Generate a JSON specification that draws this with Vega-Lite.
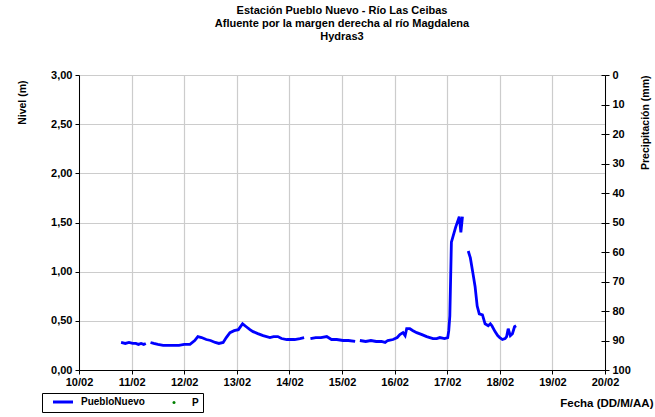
{
  "$schema": "https://vega.github.io/schema/vega-lite/v6.json",
  "width": 526,
  "height": 295,
  "autosize": {"type": "none"},
  "padding": {"left": 79, "top": 75, "right": 50, "bottom": 47},
  "background": "white",
  "title": {
    "text": ["Estación Pueblo Nuevo - Río Las Ceibas", "Afluente por la margen derecha al río Magdalena", "Hydras3"],
    "font": "Liberation Sans",
    "fontSize": 11,
    "fontWeight": "bold",
    "color": "black",
    "anchor": "middle",
    "offset": 27,
    "lineHeight": 13
  },
  "data": {
    "values": [
      {"fecha": "2012-02-10 19:12", "nivel": 0.28, "tramo": 1},
      {"fecha": "2012-02-10 21:07", "nivel": 0.27, "tramo": 1},
      {"fecha": "2012-02-10 22:48", "nivel": 0.28, "tramo": 1},
      {"fecha": "2012-02-11 00:29", "nivel": 0.27, "tramo": 1},
      {"fecha": "2012-02-11 01:55", "nivel": 0.27, "tramo": 1},
      {"fecha": "2012-02-11 03:07", "nivel": 0.26, "tramo": 1},
      {"fecha": "2012-02-11 04:19", "nivel": 0.27, "tramo": 1},
      {"fecha": "2012-02-11 05:31", "nivel": 0.26, "tramo": 1},
      {"fecha": "2012-02-11 06:29", "nivel": 0.27, "tramo": 1},
      {"fecha": "2012-02-11 08:38", "nivel": 0.28, "tramo": 2},
      {"fecha": "2012-02-11 10:05", "nivel": 0.27, "tramo": 2},
      {"fecha": "2012-02-11 12:00", "nivel": 0.26, "tramo": 2},
      {"fecha": "2012-02-11 14:24", "nivel": 0.25, "tramo": 2},
      {"fecha": "2012-02-11 18:00", "nivel": 0.25, "tramo": 2},
      {"fecha": "2012-02-11 21:36", "nivel": 0.25, "tramo": 2},
      {"fecha": "2012-02-12 00:00", "nivel": 0.26, "tramo": 2},
      {"fecha": "2012-02-12 02:38", "nivel": 0.26, "tramo": 2},
      {"fecha": "2012-02-12 04:48", "nivel": 0.30, "tramo": 2},
      {"fecha": "2012-02-12 06:14", "nivel": 0.34, "tramo": 2},
      {"fecha": "2012-02-12 07:55", "nivel": 0.33, "tramo": 2},
      {"fecha": "2012-02-12 10:05", "nivel": 0.31, "tramo": 2},
      {"fecha": "2012-02-12 12:00", "nivel": 0.30, "tramo": 2},
      {"fecha": "2012-02-12 14:10", "nivel": 0.28, "tramo": 2},
      {"fecha": "2012-02-12 15:50", "nivel": 0.27, "tramo": 2},
      {"fecha": "2012-02-12 17:46", "nivel": 0.28, "tramo": 2},
      {"fecha": "2012-02-12 19:12", "nivel": 0.33, "tramo": 2},
      {"fecha": "2012-02-12 20:53", "nivel": 0.38, "tramo": 2},
      {"fecha": "2012-02-12 22:48", "nivel": 0.40, "tramo": 2},
      {"fecha": "2012-02-13 00:43", "nivel": 0.41, "tramo": 2},
      {"fecha": "2012-02-13 02:38", "nivel": 0.47, "tramo": 2},
      {"fecha": "2012-02-13 04:19", "nivel": 0.44, "tramo": 2},
      {"fecha": "2012-02-13 06:00", "nivel": 0.41, "tramo": 2},
      {"fecha": "2012-02-13 07:26", "nivel": 0.39, "tramo": 2},
      {"fecha": "2012-02-13 09:36", "nivel": 0.37, "tramo": 2},
      {"fecha": "2012-02-13 12:00", "nivel": 0.35, "tramo": 2},
      {"fecha": "2012-02-13 15:07", "nivel": 0.33, "tramo": 2},
      {"fecha": "2012-02-13 16:48", "nivel": 0.34, "tramo": 2},
      {"fecha": "2012-02-13 18:43", "nivel": 0.34, "tramo": 2},
      {"fecha": "2012-02-13 20:24", "nivel": 0.32, "tramo": 2},
      {"fecha": "2012-02-13 22:48", "nivel": 0.31, "tramo": 2},
      {"fecha": "2012-02-14 00:14", "nivel": 0.31, "tramo": 2},
      {"fecha": "2012-02-14 02:24", "nivel": 0.31, "tramo": 2},
      {"fecha": "2012-02-14 04:48", "nivel": 0.32, "tramo": 2},
      {"fecha": "2012-02-14 06:43", "nivel": 0.33, "tramo": 2},
      {"fecha": "2012-02-14 09:36", "nivel": 0.32, "tramo": 3},
      {"fecha": "2012-02-14 12:00", "nivel": 0.33, "tramo": 3},
      {"fecha": "2012-02-14 14:24", "nivel": 0.33, "tramo": 3},
      {"fecha": "2012-02-14 17:02", "nivel": 0.34, "tramo": 3},
      {"fecha": "2012-02-14 19:12", "nivel": 0.31, "tramo": 3},
      {"fecha": "2012-02-14 21:36", "nivel": 0.31, "tramo": 3},
      {"fecha": "2012-02-15 00:29", "nivel": 0.30, "tramo": 3},
      {"fecha": "2012-02-15 02:53", "nivel": 0.30, "tramo": 3},
      {"fecha": "2012-02-15 06:00", "nivel": 0.29, "tramo": 3},
      {"fecha": "2012-02-15 08:10", "nivel": 0.30, "tramo": 4},
      {"fecha": "2012-02-15 10:48", "nivel": 0.29, "tramo": 4},
      {"fecha": "2012-02-15 13:12", "nivel": 0.30, "tramo": 4},
      {"fecha": "2012-02-15 15:36", "nivel": 0.29, "tramo": 4},
      {"fecha": "2012-02-15 18:00", "nivel": 0.29, "tramo": 4},
      {"fecha": "2012-02-15 19:41", "nivel": 0.28, "tramo": 4},
      {"fecha": "2012-02-15 20:53", "nivel": 0.30, "tramo": 4},
      {"fecha": "2012-02-15 23:17", "nivel": 0.31, "tramo": 4},
      {"fecha": "2012-02-16 01:12", "nivel": 0.33, "tramo": 4},
      {"fecha": "2012-02-16 02:24", "nivel": 0.36, "tramo": 4},
      {"fecha": "2012-02-16 03:50", "nivel": 0.38, "tramo": 4},
      {"fecha": "2012-02-16 04:48", "nivel": 0.35, "tramo": 4},
      {"fecha": "2012-02-16 05:31", "nivel": 0.42, "tramo": 4},
      {"fecha": "2012-02-16 06:58", "nivel": 0.42, "tramo": 4},
      {"fecha": "2012-02-16 08:24", "nivel": 0.40, "tramo": 4},
      {"fecha": "2012-02-16 10:05", "nivel": 0.38, "tramo": 4},
      {"fecha": "2012-02-16 12:29", "nivel": 0.36, "tramo": 4},
      {"fecha": "2012-02-16 14:38", "nivel": 0.34, "tramo": 4},
      {"fecha": "2012-02-16 17:31", "nivel": 0.32, "tramo": 4},
      {"fecha": "2012-02-16 19:12", "nivel": 0.32, "tramo": 4},
      {"fecha": "2012-02-16 20:38", "nivel": 0.33, "tramo": 4},
      {"fecha": "2012-02-16 22:48", "nivel": 0.32, "tramo": 4},
      {"fecha": "2012-02-17 00:14", "nivel": 0.33, "tramo": 4},
      {"fecha": "2012-02-17 00:43", "nivel": 0.40, "tramo": 4},
      {"fecha": "2012-02-17 01:12", "nivel": 0.55, "tramo": 4},
      {"fecha": "2012-02-17 01:55", "nivel": 1.30, "tramo": 4},
      {"fecha": "2012-02-17 03:50", "nivel": 1.45, "tramo": 4},
      {"fecha": "2012-02-17 05:31", "nivel": 1.56, "tramo": 4},
      {"fecha": "2012-02-17 06:14", "nivel": 1.40, "tramo": 4},
      {"fecha": "2012-02-17 06:58", "nivel": 1.56, "tramo": 4},
      {"fecha": "2012-02-17 09:36", "nivel": 1.21, "tramo": 5},
      {"fecha": "2012-02-17 10:34", "nivel": 1.14, "tramo": 5},
      {"fecha": "2012-02-17 11:46", "nivel": 0.98, "tramo": 5},
      {"fecha": "2012-02-17 12:43", "nivel": 0.85, "tramo": 5},
      {"fecha": "2012-02-17 13:41", "nivel": 0.65, "tramo": 5},
      {"fecha": "2012-02-17 14:38", "nivel": 0.57, "tramo": 5},
      {"fecha": "2012-02-17 16:05", "nivel": 0.56, "tramo": 5},
      {"fecha": "2012-02-17 17:17", "nivel": 0.47, "tramo": 5},
      {"fecha": "2012-02-17 18:43", "nivel": 0.45, "tramo": 5},
      {"fecha": "2012-02-17 19:41", "nivel": 0.47, "tramo": 5},
      {"fecha": "2012-02-17 20:24", "nivel": 0.45, "tramo": 5},
      {"fecha": "2012-02-17 21:50", "nivel": 0.39, "tramo": 5},
      {"fecha": "2012-02-17 23:02", "nivel": 0.35, "tramo": 5},
      {"fecha": "2012-02-18 00:00", "nivel": 0.33, "tramo": 5},
      {"fecha": "2012-02-18 01:12", "nivel": 0.31, "tramo": 5},
      {"fecha": "2012-02-18 02:24", "nivel": 0.32, "tramo": 5},
      {"fecha": "2012-02-18 03:07", "nivel": 0.34, "tramo": 5},
      {"fecha": "2012-02-18 03:50", "nivel": 0.42, "tramo": 5},
      {"fecha": "2012-02-18 04:48", "nivel": 0.35, "tramo": 5},
      {"fecha": "2012-02-18 05:46", "nivel": 0.37, "tramo": 5},
      {"fecha": "2012-02-18 06:43", "nivel": 0.44, "tramo": 5},
      {"fecha": "2012-02-18 07:26", "nivel": 0.45, "tramo": 5}
    ]
  },
  "layer": [
    {
      "mark": {"type": "line", "strokeWidth": 2.8, "clip": true},
      "encoding": {
        "x": {
          "field": "fecha",
          "type": "temporal",
          "scale": {"domain": [{"year": 2012, "month": 2, "date": 10}, {"year": 2012, "month": 2, "date": 20}]},
          "axis": {
            "tickCount": {"interval": "day", "step": 1},
            "format": "%d/%m",
            "labelFlush": false,
            "labelOverlap": false,
            "tickSize": 4,
            "labelPadding": 2,
            "grid": true,
            "title": "Fecha (DD/M/AA)",
            "titleFontSize": 11.5,
            "titleX": 574,
            "titleY": 33,
            "titleAlign": "right",
            "titleBaseline": "middle",
            "titleAnchor": null
          }
        },
        "y": {
          "field": "nivel",
          "type": "quantitative",
          "scale": {"domain": [0, 3]},
          "axis": {
            "orient": "left",
            "values": [0, 0.5, 1, 1.5, 2, 2.5, 3],
            "labelExpr": "replace(format(datum.value, '.2f'), '.', ',')",
            "tickSize": 4,
            "labelPadding": 3,
            "grid": true,
            "title": "Nivel (m)",
            "titleAngle": 270,
            "titleX": -57,
            "titleY": 5,
            "titleAlign": "right",
            "titleBaseline": "middle"
          }
        },
        "detail": {"field": "tramo"},
        "color": {
          "datum": "PuebloNuevo",
          "scale": {"domain": ["PuebloNuevo", "P"], "range": ["#0000FF", "#008000"]},
          "legend": {
            "orient": "none",
            "legendX": -37,
            "legendY": 318,
            "direction": "horizontal",
            "title": null,
            "strokeColor": "black",
            "fillColor": "white",
            "padding": 4,
            "labelFont": "Liberation Sans",
            "labelFontWeight": "bold",
            "labelFontSize": 10,
            "labelColor": "black",
            "labelOffset": 13,
            "symbolOffset": 12,
            "symbolSize": 400,
            "symbolType": "stroke",
            "symbolStrokeWidth": 3,
            "columnPadding": 12,
            "encode": {
              "legend": {
                "update": {
                  "stroke": {"value": "black"},
                  "strokeWidth": {"value": 1},
                  "fill": {"value": "white"}
                }
              },
              "symbols": {
                "update": {
                  "shape": {"signal": "datum.value === 'P' ? 'circle' : 'stroke'"},
                  "size": {"signal": "datum.value === 'P' ? 9 : 400"},
                  "strokeWidth": {"signal": "datum.value === 'P' ? 0 : 3"},
                  "fill": {"signal": "datum.value === 'P' ? '#008000' : 'transparent'"},
                  "stroke": {"signal": "datum.value === 'P' ? '#008000' : '#0000FF'"},
                  "opacity": {"value": 1}
                }
              }
            }
          }
        }
      }
    },
    {
      "mark": {"type": "point", "filled": true, "size": 9},
      "encoding": {
        "x": {"field": "fecha", "type": "temporal"},
        "y": {
          "field": "precip",
          "type": "quantitative",
          "scale": {"domain": [0, 100], "reverse": true},
          "axis": {
            "orient": "right",
            "values": [0, 10, 20, 30, 40, 50, 60, 70, 80, 90, 100],
            "tickSize": 4,
            "labelPadding": 3,
            "grid": false,
            "title": "Precipitación (mm)",
            "titleAngle": 270,
            "titleX": 40,
            "titleY": 0,
            "titleAlign": "right",
            "titleBaseline": "middle"
          }
        },
        "color": {"datum": "P"}
      }
    },
    {
      "mark": {"type": "point", "opacity": 0},
      "encoding": {
        "x": {"field": "fecha", "type": "temporal"},
        "y": {
          "field": "precip",
          "type": "quantitative",
          "scale": {"domain": [0, 100], "reverse": true},
          "axis": {
            "orient": "right",
            "values": [0, 10, 20, 30, 40, 50, 60, 70, 80, 90, 100],
            "tickSize": 4,
            "offset": -4,
            "labels": false,
            "domain": false,
            "grid": false,
            "title": null
          }
        }
      }
    }
  ],
  "resolve": {"scale": {"y": "independent"}},
  "config": {
    "view": {"stroke": null},
    "legend": {"strokeColor": "black", "fillColor": "white"},
    "axis": {
      "labelFont": "Liberation Sans",
      "labelFontWeight": "bold",
      "labelFontSize": 11,
      "labelColor": "black",
      "titleFont": "Liberation Sans",
      "titleFontWeight": "bold",
      "titleFontSize": 10.5,
      "titleColor": "black",
      "domainColor": "black",
      "domainWidth": 1,
      "tickColor": "black",
      "tickWidth": 1,
      "gridColor": "#cccccc",
      "gridWidth": 1.2
    }
  }
}
